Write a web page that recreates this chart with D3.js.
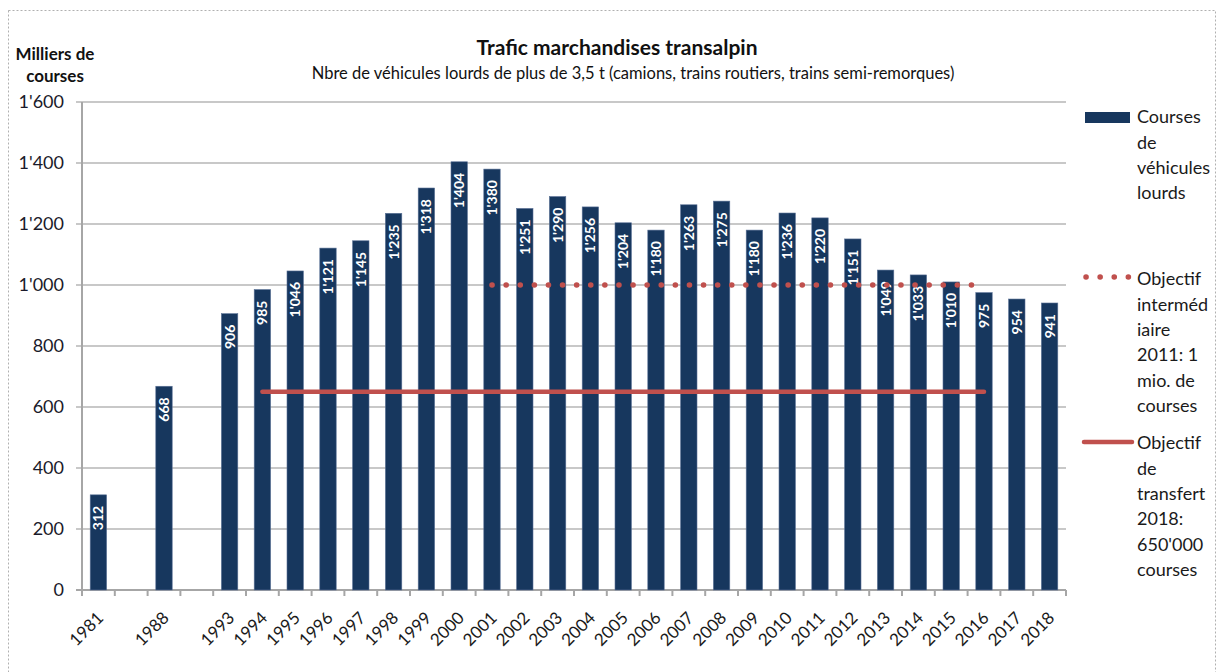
<!DOCTYPE html>
<html><head><meta charset="utf-8">
<script src="https://cdn.jsdelivr.net/npm/d3@7"></script>
<style>body{margin:0;background:#fff}svg{display:block}text{font-family:Lato,"Open Sans",sans-serif}</style>
</head><body>
<script>
const categories = ["1981","gapA","1988","gapB","1993","1994","1995","1996","1997","1998","1999","2000","2001","2002","2003","2004","2005","2006","2007","2008","2009","2010","2011","2012","2013","2014","2015","2016","2017","2018"];
const values = [312,null,668,null,906,985,1046,1121,1145,1235,1318,1404,1380,1251,1290,1256,1204,1180,1263,1275,1180,1236,1220,1151,1049,1033,1010,975,954,941];
const yTicks = [0,200,400,600,800,1000,1200,1400,1600];
const interimTarget = [["2001",1000],["2016",1000]];
const transferTarget = [["1994",650],["2016",650]];
const title = "Trafic marchandises transalpin";
const subtitle = "Nbre de véhicules lourds de plus de 3,5 t (camions, trains routiers, trains semi-remorques)";
const yTitle = ["Milliers de","courses"];
const legend1 = ["Courses","de","véhicules","lourds"];
const legend2 = ["Objectif","interméd","iaire","2011: 1","mio. de","courses"];
const legend3 = ["Objectif","de","transfert","2018:","650'000","courses"];

const W=1219,H=672;
const svg=d3.select("body").append("svg").attr("width",W).attr("height",H);
const barColor="#17375E", red="#C0504D", grid="#C8C8C8", axisC="#A6A6A6";
svg.append("rect").attr("x",8.5).attr("y",10.5).attr("width",1207).attr("height",670)
  .attr("fill","none").attr("stroke","#b0b0b0").attr("stroke-dasharray","2,2");

const x=d3.scaleBand().domain(categories).range([82,1066]).paddingInner(0.5).paddingOuter(0.25);
const y=d3.scaleLinear().domain([0,1600]).range([590,102]);
const fmt=v=>d3.format(",")(v).replace(/,/g,"'");
const cx=c=>x(c)+x.bandwidth()/2;

// gridlines
svg.append("g").selectAll("line").data(yTicks.filter(d=>d>0)).join("line")
  .attr("x1",76).attr("x2",1066).attr("y1",d=>y(d)).attr("y2",d=>y(d))
  .attr("stroke",grid).attr("stroke-width",2);
svg.append("line").attr("x1",76).attr("x2",1066).attr("y1",y(0)).attr("y2",y(0)).attr("stroke",axisC).attr("stroke-width",2);
svg.append("line").attr("x1",82).attr("x2",82).attr("y1",y(1600)).attr("y2",y(0)+6).attr("stroke",axisC).attr("stroke-width",2);
const step=x.step(), x0=x.range()[0];
svg.append("g").selectAll("line").data(d3.range(categories.length+1)).join("line")
  .attr("x1",i=>x0+i*step).attr("x2",i=>x0+i*step).attr("y1",y(0)).attr("y2",y(0)+6)
  .attr("stroke",axisC).attr("stroke-width",2);
// y labels
svg.append("g").selectAll("text").data(yTicks).join("text")
  .attr("x",64).attr("y",d=>y(d)).attr("dy","0.35em").attr("text-anchor","end")
  .attr("font-size",18).attr("fill","#1a1a2a").text(fmt);
// x labels
svg.append("g").selectAll("text").data(categories.filter(c=>!c.startsWith("gap"))).join("text")
  .attr("transform",c=>`translate(${cx(c)+6},${y(0)+29}) rotate(-45)`)
  .attr("text-anchor","end").attr("font-size",17).attr("fill","#1a1a1a").text(c=>c);

// bars
const data=categories.map((c,i)=>({c,v:values[i]})).filter(d=>d.v!=null);
svg.append("g").selectAll("rect").data(data).join("rect")
  .attr("x",d=>x(d.c)).attr("width",x.bandwidth()).attr("y",d=>y(d.v)).attr("height",d=>y(0)-y(d.v))
  .attr("fill",barColor).attr("stroke","#5a7196").attr("stroke-width",0.6);
svg.append("g").selectAll("text").data(data).join("text")
  .attr("transform",d=>`translate(${cx(d.c)},${y(d.v)+11}) rotate(-90)`)
  .attr("text-anchor","end").attr("dy","0.36em").attr("font-size",14).attr("font-weight","bold")
  .attr("fill","#fff").text(d=>fmt(d.v));

// target lines
const line=d3.line().x(d=>cx(d[0])).y(d=>y(d[1]));
svg.append("path").attr("d",line(transferTarget)).attr("stroke",red).attr("stroke-width",4.5)
  .attr("stroke-linecap","round").attr("fill","none");
svg.append("path").attr("d",line(interimTarget)).attr("stroke",red).attr("stroke-width",5.5)
  .attr("stroke-linecap","round").attr("stroke-dasharray","0.1 14").attr("fill","none");

// titles
svg.append("text").attr("x",617).attr("y",55).attr("text-anchor","middle").attr("font-size",21).attr("font-weight","bold").attr("fill","#111").text(title);
svg.append("text").attr("x",633).attr("y",79).attr("text-anchor","middle").attr("font-size",16.5).attr("fill","#111").text(subtitle);
yTitle.forEach((t,i)=>svg.append("text").attr("x",55).attr("y",60+i*22).attr("text-anchor","middle").attr("font-size",17).attr("font-weight","bold").attr("fill","#111").text(t));

// legend
const lx=1137, fs=18;
svg.append("rect").attr("x",1085).attr("y",112).attr("width",45).attr("height",11).attr("fill",barColor);
legend1.forEach((t,i)=>svg.append("text").attr("x",lx).attr("y",117+i*25.3).attr("dy","0.35em").attr("font-size",fs).attr("fill","#1a1a1a").text(t));
svg.append("line").attr("x1",1086).attr("x2",1130).attr("y1",277).attr("y2",277).attr("stroke",red).attr("stroke-width",5.5)
  .attr("stroke-linecap","round").attr("stroke-dasharray","0.1 14");
legend2.forEach((t,i)=>svg.append("text").attr("x",lx).attr("y",279+i*25.3).attr("dy","0.35em").attr("font-size",fs).attr("fill","#1a1a1a").text(t));
svg.append("line").attr("x1",1084).attr("x2",1132).attr("y1",442).attr("y2",442).attr("stroke",red).attr("stroke-width",4.5).attr("stroke-linecap","round");
legend3.forEach((t,i)=>svg.append("text").attr("x",lx).attr("y",443+i*25.3).attr("dy","0.35em").attr("font-size",fs).attr("fill","#1a1a1a").text(t));
</script>
</body></html>
